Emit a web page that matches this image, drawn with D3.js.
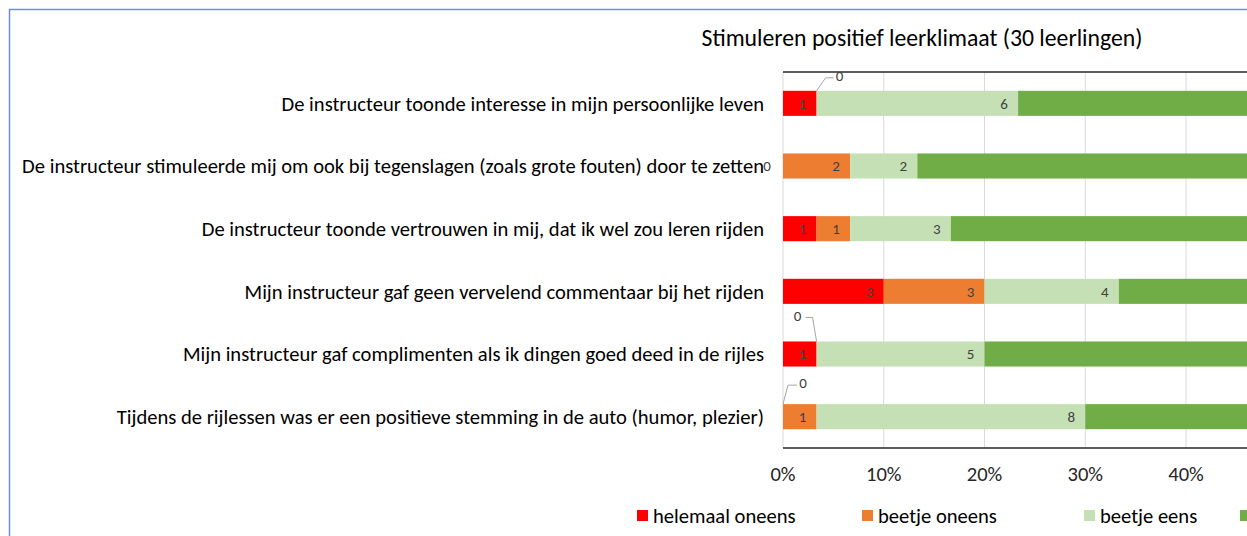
<!DOCTYPE html>
<html>
  <head>
    <meta charset="utf-8">
    <title>Stimuleren positief leerklimaat</title>
    <script src="https://d3js.org/d3.v7.min.js"></script>
    <style>
      body { margin: 0; background: #fff; }
      text { font-family: Carlito, Lato, "Liberation Sans", sans-serif; }
      .cat text { font-size: 16px; fill: #000; }
      .axis-x text { font-size: 16px; fill: #262626; }
      .val { font-size: 15px; fill: #404040; }
      .legend text { font-size: 16px; fill: #000; }
    </style>
  </head>
  <body>
    <svg width="1247" height="536"></svg>
    <script>
      var categories = [
        "De instructeur toonde interesse in mijn persoonlijke leven",
        "De instructeur stimuleerde mij om ook bij tegenslagen (zoals grote fouten) door te zetten",
        "De instructeur toonde vertrouwen in mij, dat ik wel zou leren rijden",
        "Mijn instructeur gaf geen vervelend commentaar bij het rijden",
        "Mijn instructeur gaf complimenten als ik dingen goed deed in de rijles",
        "Tijdens de rijlessen was er een positieve stemming in de auto (humor, plezier)"
      ];
      var seriesNames = ["helemaal oneens", "beetje oneens", "beetje eens", "helemaal eens"];
      var helemaalOneens = [1, 0, 1, 3, 1, 0];
      var beetjeOneens   = [0, 2, 1, 3, 0, 1];
      var beetjeEens     = [6, 2, 3, 4, 5, 8];
      var helemaalEens   = [23, 26, 25, 20, 24, 21];
      var total = 30;
      var tickValues = [0, 0.1, 0.2, 0.3, 0.4, 0.5, 0.6, 0.7, 0.8, 0.9, 1];
      var colors = ["#ff0000", "#ed7d31", "#c5e0b4", "#70ad47"];

      var svg = d3.select("svg");

      // outer chart frame (continues past the crop)
      svg.append("rect")
          .attr("x", 9.5).attr("y", 9.5)
          .attr("width", 1300).attr("height", 600)
          .attr("fill", "none")
          .attr("stroke", "#6d8fd9")
          .attr("stroke-width", 1.5);

      var plotLeft = 783, plotTop = 72, plotBottom = 448;

      var x = d3.scaleLinear()
          .domain([0, 1])
          .range([plotLeft, plotLeft + 1007.5]);

      var y = d3.scaleBand()
          .domain(categories)
          .range([plotTop, plotBottom])
          .paddingInner(0.6)
          .paddingOuter(0.3);

      var rows = categories.map(function(c, i) {
        return {
          cat: c,
          "helemaal oneens": helemaalOneens[i],
          "beetje oneens": beetjeOneens[i],
          "beetje eens": beetjeEens[i],
          "helemaal eens": helemaalEens[i]
        };
      });
      var stacked = d3.stack().keys(seriesNames)(rows);

      // gridlines
      svg.append("g")
        .selectAll("line")
        .data(tickValues)
        .enter().append("line")
          .attr("x1", function(d) { return x(d); })
          .attr("x2", function(d) { return x(d); })
          .attr("y1", plotTop).attr("y2", plotBottom)
          .attr("stroke", "#d9d9d9")
          .attr("stroke-width", 1);

      // bars
      var layers = svg.append("g").selectAll("g")
          .data(stacked)
          .enter().append("g")
          .attr("fill", function(d, i) { return colors[i]; });

      layers.selectAll("rect")
          .data(function(d) { return d; })
          .enter().append("rect")
          .attr("x", function(d) { return x(d[0] / total); })
          .attr("width", function(d) { return x(d[1] / total) - x(d[0] / total); })
          .attr("y", function(d) { return y(d.data.cat); })
          .attr("height", y.bandwidth());

      // top and bottom plot lines
      [plotTop, plotBottom].forEach(function(yy) {
        svg.append("line")
            .attr("x1", plotLeft).attr("x2", 1247)
            .attr("y1", yy).attr("y2", yy)
            .attr("stroke", "#262626")
            .attr("stroke-width", 1.5);
      });

      // value labels (inside end); zero labels get callouts
      var zeroOffsets = {
        "0-1": {dx: 23, dy: -13, lx: [0, 9, 17], ly: [0, -13, -13]},
        "4-1": {dx: -19, dy: -24, lx: [0, -4, -11], ly: [0, -24, -24]},
        "5-0": {dx: 20, dy: -19, lx: [0, 5, 14], ly: [0, -19, -19]},
        "1-0": {dx: -16, dy: 0, lx: null, ly: null}
      };
      stacked.forEach(function(layer, si) {
        layer.forEach(function(d, ri) {
          var v = d[1] - d[0];
          var xe = x(d[1] / total);
          var yc = y(d.data.cat) + y.bandwidth() / 2;
          if (v > 0) {
            if (xe - 14 > 1247) return; // outside the visible crop
            svg.append("text")
                .attr("class", "val")
                .attr("x", xe - 14)
                .attr("y", yc)
                .attr("dy", "0.35em")
                .attr("text-anchor", "middle")
                .text(v);
          } else {
            var o = zeroOffsets[ri + "-" + si];
            if (!o) return;
            var yb = o.lx ? y(d.data.cat) : yc;
            if (o.lx) {
              var pts = o.lx.map(function(lx, k) { return [xe + lx, yb + o.ly[k]]; });
              svg.append("path")
                  .attr("d", d3.line()(pts))
                  .attr("fill", "none")
                  .attr("stroke", "#a6a6a6")
                  .attr("stroke-width", 1);
            }
            svg.append("text")
                .attr("class", "val")
                .attr("x", xe + o.dx)
                .attr("y", yb + o.dy - (o.lx ? 2 : 0))
                .attr("dy", "0.35em")
                .attr("text-anchor", "middle")
                .text(0);
          }
        });
      });

      // category labels
      var cat = svg.append("g").attr("class", "cat");
      cat.selectAll("text")
          .data(categories)
          .enter().append("text")
          .attr("x", 764)
          .attr("y", function(d) { return y(d) + y.bandwidth() / 2; })
          .attr("dy", "0.35em")
          .attr("text-anchor", "end")
          .text(function(d) { return d; });

      // fit font size so longest label spans like the reference
      var longest = cat.selectAll("text").filter(function(d, i) { return i === 1; }).node();
      var fs = 16 * 742 / longest.getComputedTextLength();
      cat.selectAll("text").style("font-size", fs + "px");

      // x axis labels (only the part inside the crop)
      svg.append("g")
          .attr("class", "axis-x")
          .selectAll("text")
          .data(tickValues.filter(function(d) { return x(d) < 1230; }))
          .enter().append("text")
          .attr("x", function(d) { return x(d); })
          .attr("y", 474)
          .attr("dy", "0.35em")
          .attr("text-anchor", "middle")
          .style("font-size", fs + "px")
          .text(d3.format(".0%"));

      // title
      var title = svg.append("text")
          .attr("x", 922)
          .attr("y", 38)
          .attr("dy", "0.35em")
          .attr("text-anchor", "middle")
          .attr("fill", "#000")
          .style("font-size", "20px")
          .text("Stimuleren positief leerklimaat (30 leerlingen)");
      title.style("font-size", (20 * 441 / title.node().getComputedTextLength()) + "px");

      // legend
      var legendX = [637, 862, 1084, 1240];
      var legend = svg.append("g").attr("class", "legend")
          .selectAll("g")
          .data(seriesNames)
          .enter().append("g")
          .attr("transform", function(d, i) { return "translate(" + legendX[i] + ",516)"; });
      legend.append("rect")
          .attr("x", 0).attr("y", -6)
          .attr("width", 11).attr("height", 11)
          .attr("fill", function(d, i) { return colors[i]; });
      legend.append("text")
          .attr("x", 16)
          .attr("dy", "0.35em")
          .style("font-size", fs + "px")
          .text(function(d) { return d; });
    </script>
  </body>
</html>
